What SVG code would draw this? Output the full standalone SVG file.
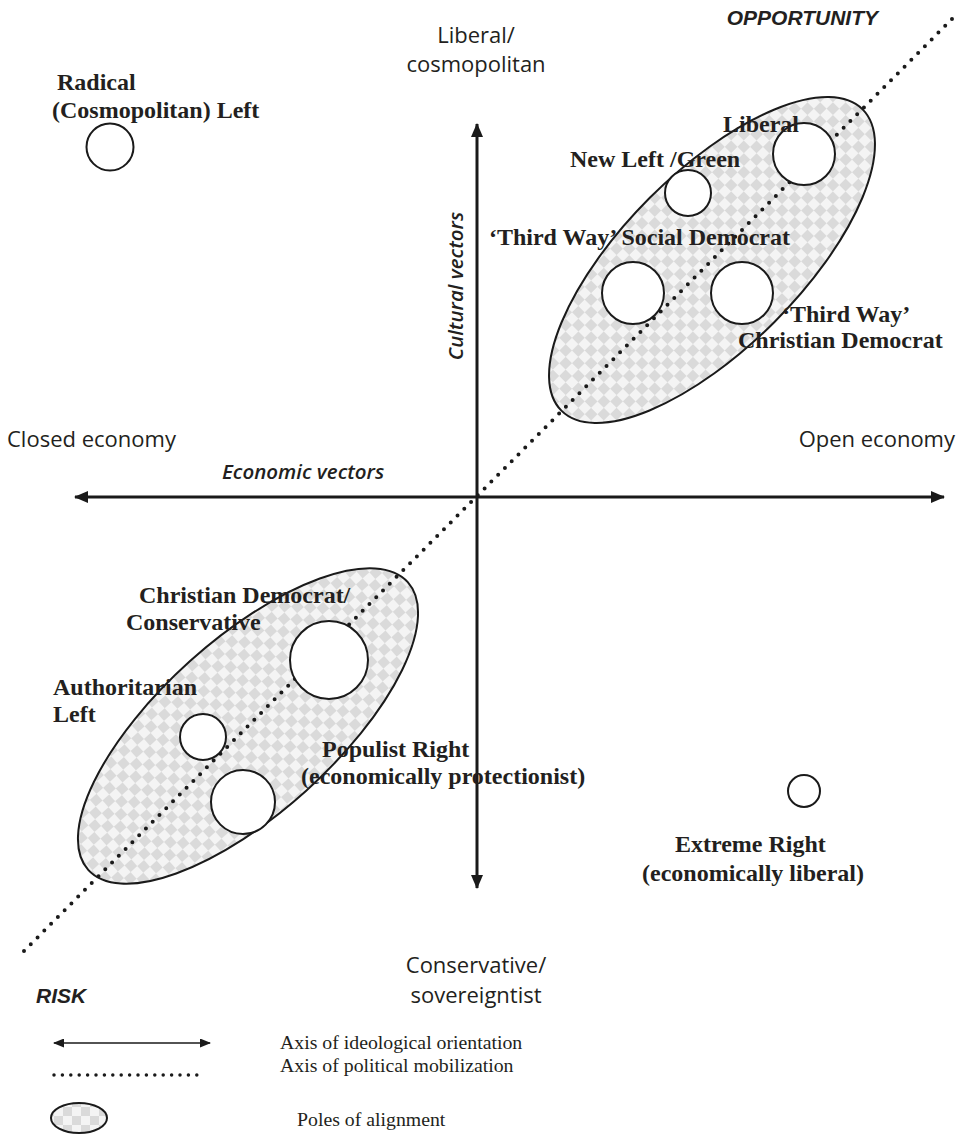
<svg xmlns="http://www.w3.org/2000/svg" width="959" height="1137" viewBox="0 0 959 1137">
<style>
.lbl{font-family:"Liberation Serif","Times New Roman",serif;font-weight:bold;font-size:24px;fill:#231f20}
.ax{font-family:"Open Sans","DejaVu Sans",sans-serif;font-size:22px;fill:#231f20}
.vec{font-family:"Open Sans","DejaVu Sans",sans-serif;font-style:italic;font-weight:600;font-size:20.5px;fill:#231f20}
.hd{font-family:"Liberation Sans",Arial,sans-serif;font-style:italic;font-weight:bold;font-size:21px;fill:#231f20}
.leg{font-family:"Liberation Serif","Times New Roman",serif;font-size:19.8px;fill:#231f20}
.pc{fill:#fff;stroke:#1a1a1a;stroke-width:2}
.pole{fill:url(#chk);stroke:#1a1a1a;stroke-width:2}
.axis{stroke:#1a1a1a;stroke-width:3;fill:none}
.dots{stroke:#1a1a1a;stroke-width:4;stroke-linecap:round;stroke-dasharray:0 9.6;fill:none}
</style>
<defs>
<pattern id="chk" width="18" height="18" patternUnits="userSpaceOnUse">
<rect width="18" height="18" fill="#f4f4f4"/>
<rect width="9" height="9" fill="#dadada"/>
<rect x="9" y="9" width="9" height="9" fill="#dadada"/>
</pattern>
<marker id="ah" markerUnits="userSpaceOnUse" markerWidth="14" markerHeight="12" refX="13" refY="6" orient="auto-start-reverse">
<path d="M0,0 L14,6 L0,12 z" fill="#1a1a1a"/>
</marker>
<marker id="ahs" markerUnits="userSpaceOnUse" markerWidth="11" markerHeight="9" refX="10" refY="4.5" orient="auto-start-reverse">
<path d="M0,0 L11,4.5 L0,9 z" fill="#1a1a1a"/>
</marker>
</defs>
<rect width="959" height="1137" fill="#fff"/>

<g id="pole-upper"><ellipse class="pole" cx="712" cy="260" rx="213" ry="88" transform="rotate(-45 712 260)"/></g>
<g id="pole-lower"><ellipse class="pole" cx="248" cy="726" rx="215" ry="87" transform="rotate(-42 248 726)"/></g>

<g id="connectors">
<line class="axis" x1="75" y1="497" x2="944" y2="497" marker-start="url(#ah)" marker-end="url(#ah)"/>
<line class="axis" x1="477" y1="124" x2="477" y2="888" marker-start="url(#ah)" marker-end="url(#ah)"/>
<line class="dots" x1="24" y1="951" x2="953" y2="18"/>
</g>

<g id="axis-labels">
<text class="ax" x="476" y="43" text-anchor="middle">Liberal/</text>
<text class="ax" x="476" y="72" text-anchor="middle">cosmopolitan</text>
<text class="ax" x="7" y="447">Closed economy</text>
<text class="ax" x="955" y="447" text-anchor="end">Open economy</text>
<text class="ax" x="476" y="973" text-anchor="middle">Conservative/</text>
<text class="ax" x="476" y="1003" text-anchor="middle">sovereigntist</text>
<text class="vec" x="222" y="479">Economic vectors</text>
<text class="vec" transform="translate(463 286) rotate(-90)" text-anchor="middle">Cultural vectors</text>
<text class="hd" x="878" y="25" text-anchor="end">OPPORTUNITY</text>
<text class="hd" x="36" y="1003">RISK</text>
</g>

<g id="radical-left">
<circle class="pc" cx="110" cy="147" r="23.5"/>
<text class="lbl" x="57" y="90">Radical</text>
<text class="lbl" x="52" y="118">(Cosmopolitan) Left</text>
</g>
<g id="liberal">
<circle class="pc" cx="804" cy="154" r="31"/>
<text class="lbl" x="723" y="132">Liberal</text>
</g>
<g id="new-left-green">
<circle class="pc" cx="688" cy="193" r="23"/>
<text class="lbl" x="570" y="167">New Left /Green</text>
</g>
<g id="third-way-social-democrat">
<circle class="pc" cx="633" cy="293" r="31"/>
<text class="lbl" x="790" y="245" text-anchor="end">‘Third Way’ Social Democrat</text>
</g>
<g id="third-way-christian-democrat">
<circle class="pc" cx="742" cy="293" r="31"/>
<text class="lbl" x="782" y="322">‘Third Way’</text>
<text class="lbl" x="738" y="348">Christian Democrat</text>
</g>
<g id="christian-democrat-conservative">
<circle class="pc" cx="329" cy="660" r="39"/>
<text class="lbl" x="139" y="603">Christian Democrat/</text>
<text class="lbl" x="126" y="630">Conservative</text>
</g>
<g id="authoritarian-left">
<circle class="pc" cx="203" cy="737" r="23"/>
<text class="lbl" x="53" y="695">Authoritarian</text>
<text class="lbl" x="53" y="722">Left</text>
</g>
<g id="populist-right">
<circle class="pc" cx="243" cy="802" r="32"/>
<text class="lbl" x="322" y="757">Populist Right</text>
<text class="lbl" x="301" y="784">(economically protectionist)</text>
</g>
<g id="extreme-right">
<circle class="pc" cx="804" cy="791" r="16"/>
<text class="lbl" x="675" y="852">Extreme Right</text>
<text class="lbl" x="642" y="881">(economically liberal)</text>
</g>

<g id="legend">
<line x1="54" y1="1043" x2="210" y2="1043" stroke="#1a1a1a" stroke-width="1.6" marker-start="url(#ahs)" marker-end="url(#ahs)"/>
<line x1="54" y1="1075" x2="205" y2="1075" stroke="#1a1a1a" stroke-width="3.5" stroke-linecap="round" stroke-dasharray="0 8.4"/>
<ellipse class="pole" cx="79" cy="1118" rx="28" ry="15"/>
<text class="leg" x="280" y="1049">Axis of ideological orientation</text>
<text class="leg" x="280" y="1072">Axis of political mobilization</text>
<text class="leg" x="297" y="1126">Poles of alignment</text>
</g>
</svg>
